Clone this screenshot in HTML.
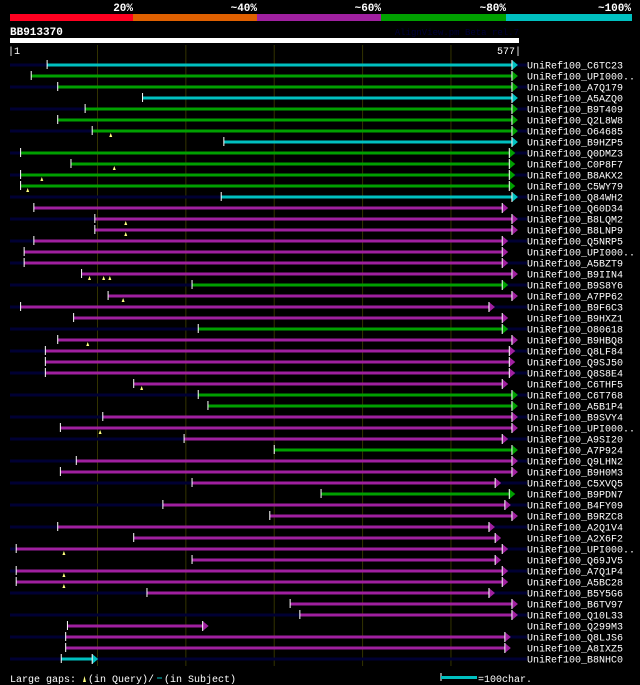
<!DOCTYPE html>
<html><head><meta charset="utf-8"><style>
body{margin:0;background:#000;width:640px;height:685px;overflow:hidden;font-family:"Liberation Mono",monospace}
svg{display:block}
</style></head><body>
<svg id="chart" width="640" height="685" xmlns="http://www.w3.org/2000/svg" font-family="Liberation Mono, DejaVu Sans Mono, monospace">
<g>
<rect x="10" y="14" width="123" height="7" fill="#ff0020"/>
<rect x="133" y="14" width="124" height="7" fill="#e06000"/>
<rect x="257" y="14" width="124" height="7" fill="#a020a0"/>
<rect x="381" y="14" width="125" height="7" fill="#00a000"/>
<rect x="506" y="14" width="126" height="7" fill="#00c0c0"/>
</g>
<g fill="#fff" font-size="11" font-weight="bold" text-anchor="end">
<text x="133" y="11">20%</text><text x="257" y="11">~40%</text><text x="381" y="11">~60%</text><text x="506" y="11">~80%</text><text x="631" y="11">~100%</text>
</g>
<text x="10" y="35" fill="#fff" font-size="11" font-weight="bold">BB913370</text>
<text x="519" y="35" fill="#000038" font-size="9" text-anchor="end">AlignView.pm Beta rel.7</text>
<rect x="10" y="38" width="509" height="5" fill="#fff"/>
<text x="8" y="54" fill="#fff" font-size="10">|1</text>
<text x="521" y="54" fill="#fff" font-size="10" text-anchor="end">577|</text>
<g id="grid"></g>
<g id="rows"></g>
<g fill="#fff" font-size="10">
<text x="10" y="682">Large gaps:</text>
<polygon points="83,682 86,682 84.5,676" fill="#ffff80"/>
<text x="88" y="682">(in Query)/</text>
<line x1="157" y1="678" x2="162" y2="678" stroke="#00c0c0" stroke-width="1"/>
<text x="164" y="682">(in Subject)</text>
<line x1="441" y1="673" x2="441" y2="681" stroke="#fff"/>
<rect x="441" y="676" width="36" height="3" fill="#00c0c0"/>
<text x="478" y="682">=100char.</text>
</g>
</svg>
<script>
const names=["C6TC23","UPI000..","A7Q179","A5AZQ0","B9T409","Q2L8W8","O64685","B9HZP5","Q0DMZ3","C0P8F7","B8AKX2","C5WY79","Q84WH2","Q60D34","B8LQM2","B8LNP9","Q5NRP5","UPI000..","A5BZT9","B9IIN4","B9S8Y6","A7PP62","B9F6C3","B9HXZ1","O80618","B9HBQ8","Q8LF84","Q9SJ50","Q8S8E4","C6THF5","C6T768","A5B1P4","B9SVY4","UPI000..","A9SI20","A7P924","Q9LHN2","B9H0M3","C5XVQ5","B9PDN7","B4FY09","B9RZC8","A2Q1V4","A2X6F2","UPI000..","Q69JV5","A7Q1P4","A5BC28","B5Y5G6","B6TV97","Q10L33","Q299M3","Q8LJS6","A8IXZ5","B8NHC0"];
const starts=[43,25,55,151,86,55,94,243,13,70,13,13,240,28,97,97,28,17,17,82,207,112,13,73,214,55,41,41,41,141,214,225,106,58,198,300,76,58,207,353,174,295,55,141,8,207,8,8,156,318,329,66,64,64,59];
const ends=[569,569,569,569,569,569,569,569,566,566,566,566,569,558,569,569,558,558,558,569,558,569,543,558,558,569,566,566,566,558,569,569,569,569,558,569,569,569,550,566,561,569,543,550,558,550,558,558,543,569,569,219,561,561,94];
const identity=["c","g","g","c","g","g","g","c","g","g","g","g","c","m","m","m","m","m","m","m","g","m","m","m","g","m","m","m","m","m","g","g","m","m","m","g","m","m","m","g","m","m","m","m","m","m","m","m","m","m","m","m","m","m","c"];
const queryGaps=[[],[],[],[],[],[],[115],[],[],[119],[37],[21],[],[],[132],[132],[],[],[],[91,107,114],[],[129],[],[],[],[89],[],[],[],[150],[],[],[],[103],[],[],[],[],[],[],[],[],[],[],[62],[],[62],[62],[],[],[],[],[],[],[]];
const gridTicks=[100,200,300,400,500];
const NS="http://www.w3.org/2000/svg";
const X0=10,X1=519,L=577;
function xs(r){return X0+(r-1)*(X1-X0)/(L-1);}
function ys(i){return 65+i*11;}
const col={c:"#00c0c0",g:"#00a000",m:"#a020a0"};
function mk(t,a,p){const e=document.createElementNS(NS,t);for(const k in a)e.setAttribute(k,a[k]);p.appendChild(e);return e;}
const grid=document.getElementById('grid');
gridTicks.forEach(t=>{
 const l=mk('line',{x1:xs(t),x2:xs(t),y1:45,y2:666,stroke:'#333300','stroke-width':1},grid);
 
 
});
const rows=document.getElementById('rows');
names.forEach((n,i)=>{
 const g=mk('g',{},rows);
 
 
 const y=ys(i);
 if(i%2===0){mk('rect',{x:10,y:y-1.5,width:517,height:3,fill:'#000033'},g);}
 const x1=xs(starts[i]),x2=xs(ends[i]),c=col[identity[i]];
 const bar=mk('rect',{x:x1,y:y-1.5,width:x2-x1,height:3,fill:c},g);
 
 
 mk('line',{x1:x1,x2:x1,y1:y-5,y2:y+4,stroke:'#fff','stroke-width':1},g);
 mk('polygon',{points:`${x2},${y-5} ${x2+6},${y} ${x2},${y+5}`,fill:c},g);
 mk('line',{x1:x2,x2:x2,y1:y-5,y2:y+5,stroke:'#fff','stroke-width':1},g);
 queryGaps[i].forEach(q=>{
  const tri=mk('polygon',{points:`${xs(q)-1.5},${y+6} ${xs(q)+1.5},${y+6} ${xs(q)},${y+2}`,fill:'#ffff80'},g);
  
  
 });
 const t=mk('text',{x:527,y:y+3.5,fill:'#fff','font-size':10},g);
 t.textContent='UniRef100_'+n;
 
 
});
</script>
</body></html>
